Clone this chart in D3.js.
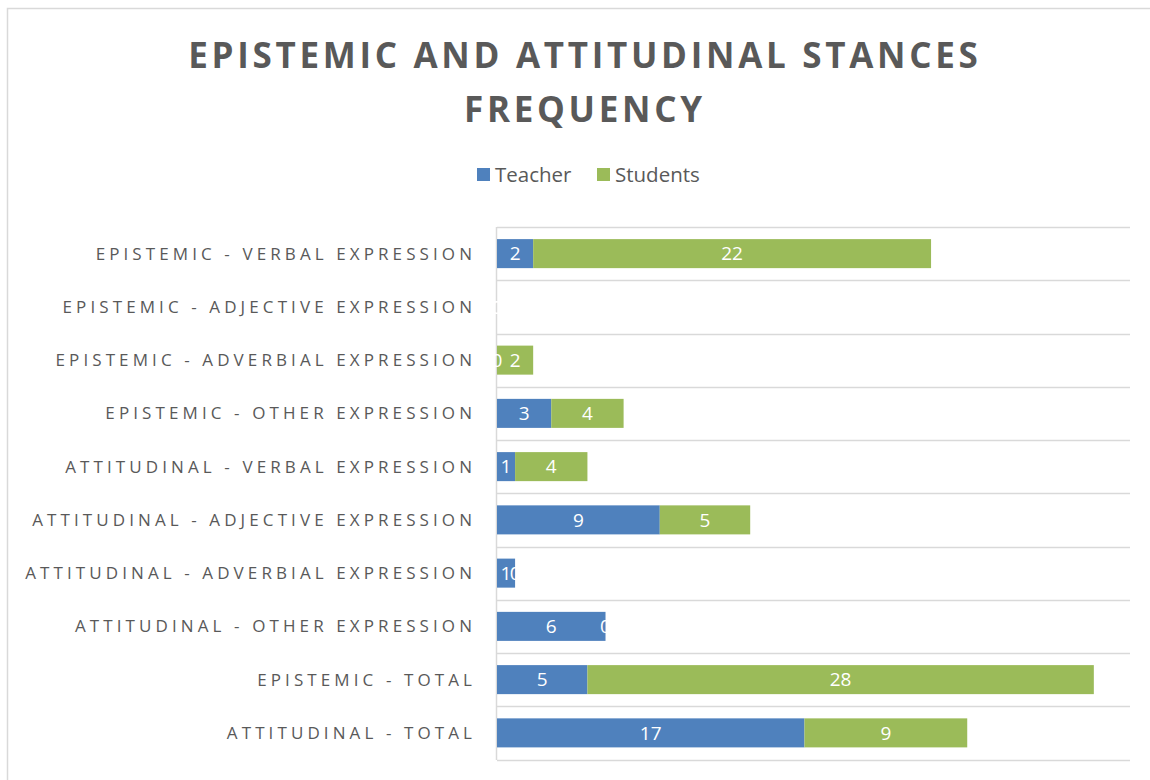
<!DOCTYPE html>
<html>
<head>
<meta charset="utf-8">
<script src="https://cdn.jsdelivr.net/npm/d3@7"></script>
<style>
  html, body { margin: 0; padding: 0; background: #fff; }
  svg { display: block; }
</style>
</head>
<body>
<svg id="chart" width="1150" height="780"></svg>
<script>
const categories = [
  "EPISTEMIC - VERBAL EXPRESSION",
  "EPISTEMIC - ADJECTIVE EXPRESSION",
  "EPISTEMIC - ADVERBIAL EXPRESSION",
  "EPISTEMIC - OTHER EXPRESSION",
  "ATTITUDINAL - VERBAL EXPRESSION",
  "ATTITUDINAL - ADJECTIVE EXPRESSION",
  "ATTITUDINAL - ADVERBIAL EXPRESSION",
  "ATTITUDINAL - OTHER EXPRESSION",
  "EPISTEMIC - TOTAL",
  "ATTITUDINAL - TOTAL"
];
const teacher  = [2, 0, 0, 3, 1, 9, 1, 6, 5, 17];
const students = [22, 0, 2, 4, 4, 5, 0, 0, 28, 9];
const seriesNames = ["Teacher", "Students"];
const seriesColors = ["#4F81BD", "#9BBB59"];
const titleLines = ["EPISTEMIC AND ATTITUDINAL STANCES", "FREQUENCY"];
const xMax = 35;

const svg = d3.select("#chart");
const textColor = "#595959";
const gridColor = "#D9D9D9";

// chart frame
svg.append("rect")
  .attr("x", 7.5).attr("y", 8.5)
  .attr("width", 1160).attr("height", 800)
  .attr("fill", "#fff").attr("stroke", gridColor).attr("stroke-width", 1.5);

// title
const cx = 583;
const titleSpacing = 3.7;
svg.append("g").selectAll("text").data(titleLines).join("text")
  .attr("x", cx + titleSpacing / 2)
  .attr("y", (d, i) => 68 + i * 54)
  .attr("text-anchor", "middle")
  .attr("font-family", "'Open Sans', sans-serif")
  .attr("font-weight", "bold")
  .attr("font-size", 35)
  .attr("letter-spacing", titleSpacing)
  .attr("fill", textColor)
  .text(d => d);

// scales
const x = d3.scaleLinear().domain([0, xMax]).range([497, 1130]);
const y = d3.scaleBand().domain(categories).range([227, 759.5])
  .paddingInner(0.455).paddingOuter(0.2275);

// gridlines at band boundaries
const bounds = d3.range(categories.length + 1).map(i => 227 + i * (759.5 - 227) / categories.length);
svg.append("g").selectAll("line").data(bounds).join("line")
  .attr("x1", x(0)).attr("x2", x(xMax))
  .attr("y1", d => Math.round(d) + 0.5).attr("y2", d => Math.round(d) + 0.5)
  .attr("stroke", gridColor).attr("stroke-width", 1.5);

// vertical axis line
svg.append("line")
  .attr("x1", x(0) - 0.5).attr("x2", x(0) - 0.5)
  .attr("y1", 227).attr("y2", 760)
  .attr("stroke", gridColor).attr("stroke-width", 1.5);

// stacked data
const rows = categories.map((c, i) => ({ cat: c, Teacher: teacher[i], Students: students[i] }));
const stack = d3.stack().keys(seriesNames)(rows);

const barsG = svg.append("g");
stack.forEach((layer, si) => {
  barsG.append("g").selectAll("rect").data(layer).join("rect")
    .attr("x", d => x(d[0]))
    .attr("y", d => y(d.data.cat))
    .attr("width", d => x(d[1]) - x(d[0]))
    .attr("height", y.bandwidth())
    .attr("fill", seriesColors[si]);
});

// data labels (drawn on top)
const labG = svg.append("g");
stack.forEach((layer, si) => {
  labG.append("g").selectAll("text").data(layer).join("text")
    .attr("x", d => (x(d[0]) + x(d[1])) / 2)
    .attr("y", d => y(d.data.cat) + y.bandwidth() / 2)
    .attr("dy", "0.36em")
    .attr("text-anchor", "middle")
    .attr("font-family", "'Open Sans', sans-serif")
    .attr("font-size", 19)
    .attr("fill", "#fff")
    .text(d => d[1] - d[0]);
});

// category labels
const labelSpacing = 4.1;
svg.append("g").selectAll("text").data(categories).join("text")
  .attr("x", 472 + labelSpacing)
  .attr("y", d => y(d) + y.bandwidth() / 2)
  .attr("dy", "0.36em")
  .attr("text-anchor", "end")
  .attr("font-family", "'Open Sans', sans-serif")
  .attr("font-size", 17)
  .attr("letter-spacing", labelSpacing)
  .attr("fill", textColor)
  .text(d => d);

// legend
const legendX = [477, 597];
const lg = svg.append("g");
seriesNames.forEach((s, i) => {
  lg.append("rect")
    .attr("x", legendX[i]).attr("y", 168)
    .attr("width", 13).attr("height", 13)
    .attr("fill", seriesColors[i]);
  lg.append("text")
    .attr("x", legendX[i] + 18).attr("y", 182)
    .attr("font-family", "'Open Sans', sans-serif")
    .attr("font-size", 20.5)
    .attr("fill", textColor)
    .text(s);
});
</script>
</body>
</html>
